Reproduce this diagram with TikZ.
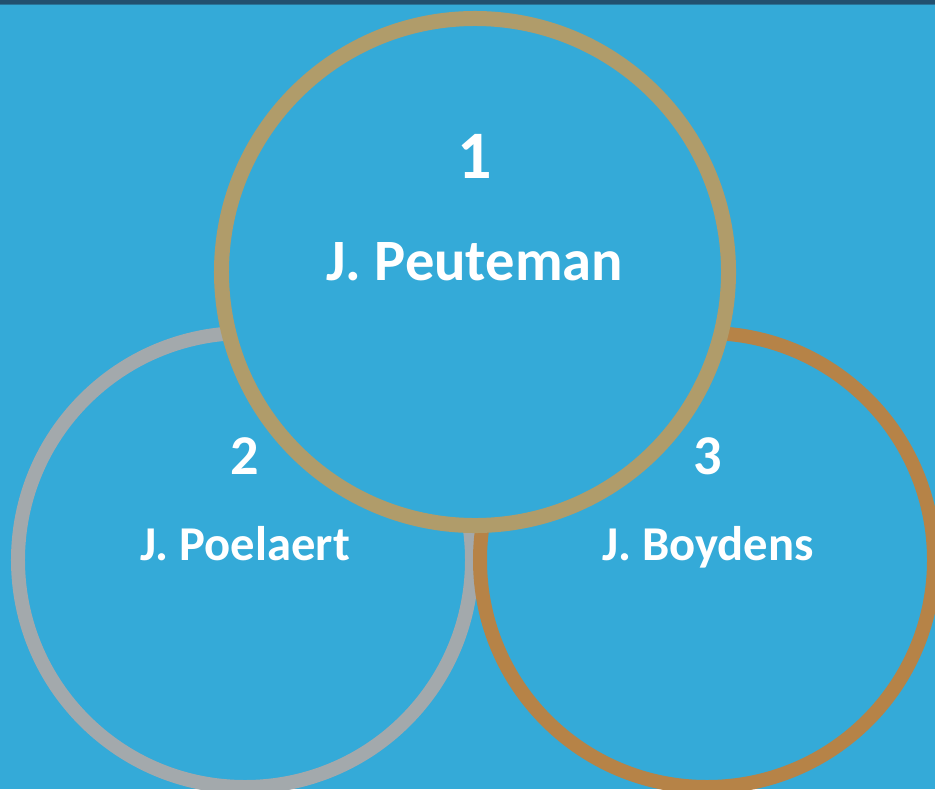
\documentclass[tikz,border=0pt]{standalone}
\usepackage{fontspec}
\setmainfont{Carlito}
\usepackage{tikz}
\usetikzlibrary{positioning}
\definecolor{bgblue}{RGB}{52, 170, 216}
\definecolor{topband}{RGB}{34, 80, 111}
\definecolor{gold}{RGB}{176, 156, 106}
\definecolor{silver}{RGB}{163, 169, 172}
\definecolor{copper}{RGB}{182, 131, 71}

\begin{document}
\begin{tikzpicture}[
    x=0.03cm, y=-0.03cm,
    ring/.style={circle, draw=#1, fill=bgblue, inner sep=0pt, line width=0.42cm, minimum size=13.62cm},
    ring/.default=silver,
    numlabel/.style={anchor=base, text=white, font=\bfseries\fontsize{48}{50}\selectfont},
    person/.style={anchor=base, text=white, font=\bfseries\fontsize{41.5}{44}\selectfont}
]
\useasboundingbox (0,0) rectangle (935,789);
\clip (0,0) rectangle (935,789);

% Background
\fill[bgblue] (0,0) rectangle (935,789);
\fill[topband] (0,0) rectangle (935,4);
\fill[topband!60!bgblue] (0,4) rectangle (935,5);

% Rings
\node[ring=silver] (left) at (245,560) {};
\node[ring=copper] (right) at (707,560) {};
\node[ring=gold, line width=0.45cm, minimum size=15.21cm] (top) at (475,272) {};

% Labels
\node[numlabel, font=\bfseries\fontsize{58}{60}\selectfont] (n1) at (475,178) {1};
\node[person, font=\bfseries\fontsize{50}{52}\selectfont] (p1) at (475,280) {J. Peuteman};
\node[numlabel] (n2) at (245,474) {2};
\node[person] (p2) at (245,560) {J. Poelaert};
\node[numlabel] (n3) at (708,474) {3};
\node[person] (p3) at (708,560) {J. Boydens};
\end{tikzpicture}
\end{document}
